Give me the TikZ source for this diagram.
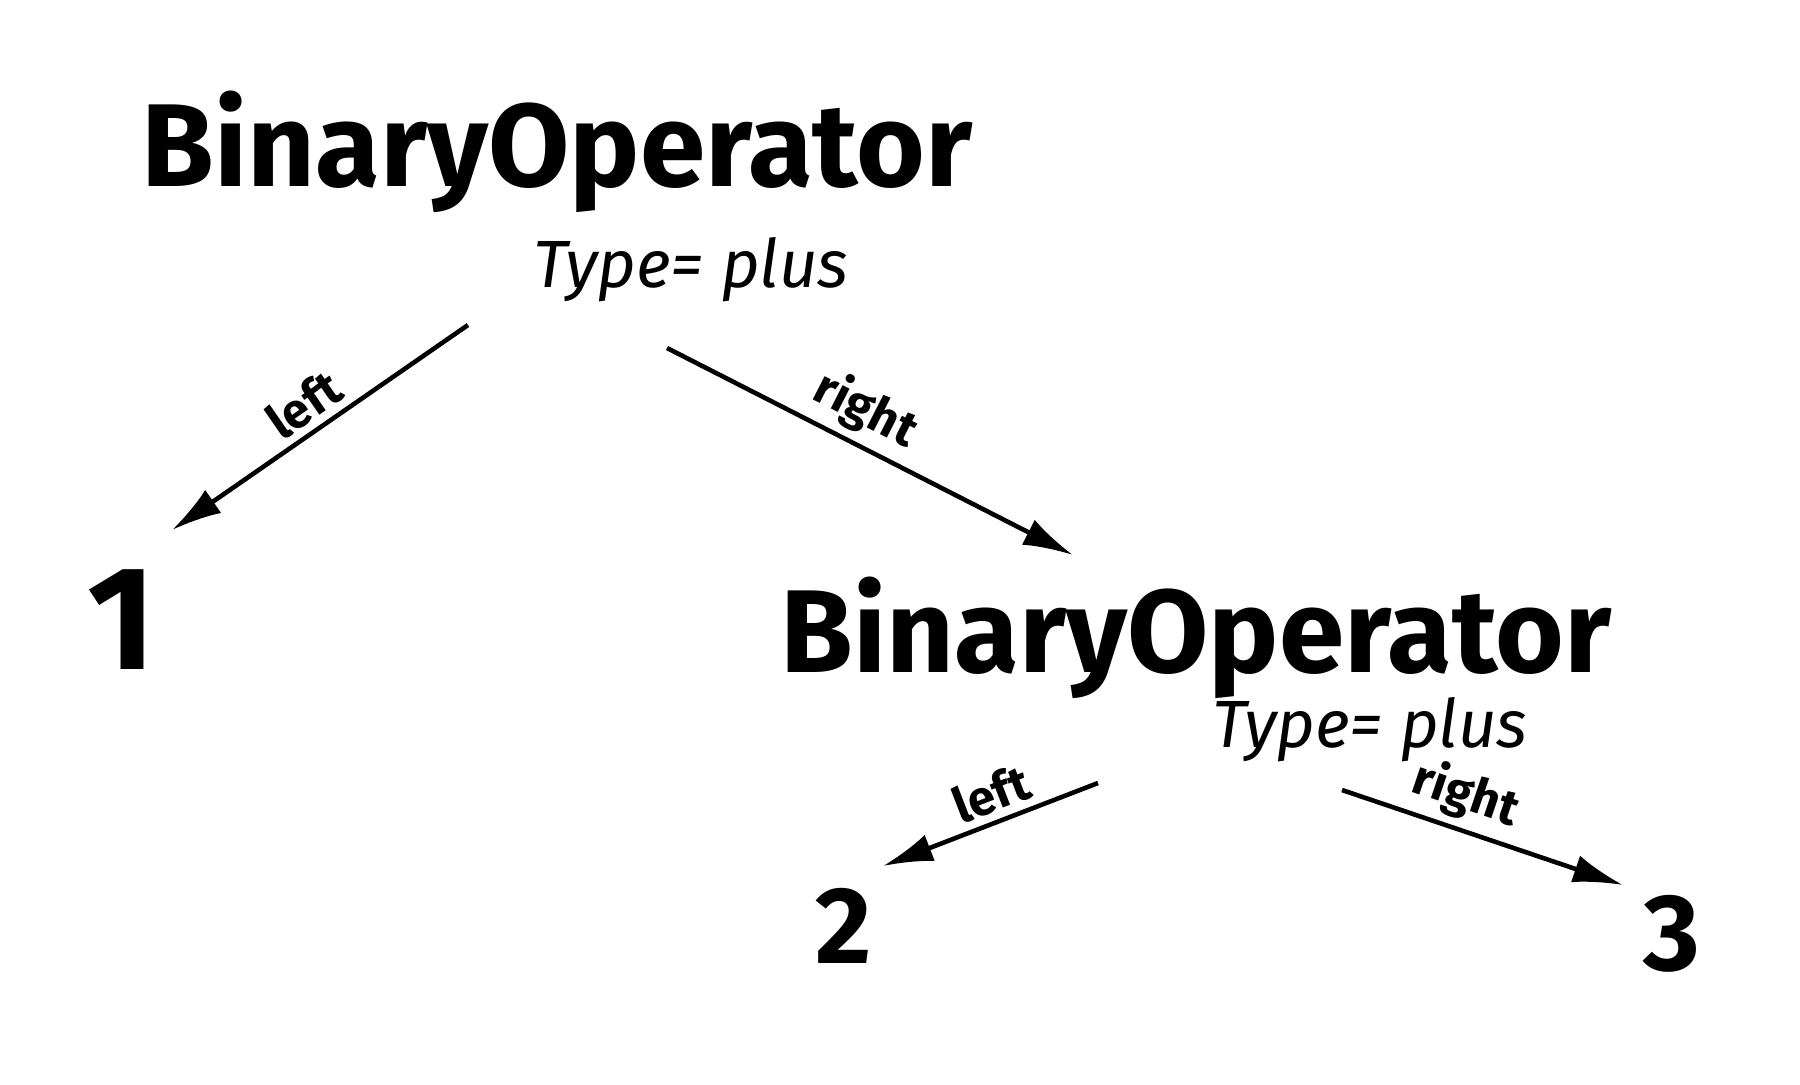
\documentclass[tikz,border=0pt]{standalone}
\usepackage{fontspec}
\setmainfont{Fira Sans}
\usepackage{tikz}
\usetikzlibrary{arrows.meta,positioning,calc}

\begin{document}
\begin{tikzpicture}[
  x=0.01cm, y=-0.01cm,
  title/.style={font=\fontsize{33.5}{38}\selectfont\bfseries, inner sep=0pt},
  typ/.style={font=\fontsize{19}{22}\selectfont\itshape, inner sep=0pt},
  leaf/.style={font=\fontsize{31}{34}\selectfont\bfseries, inner sep=0pt},
  lab/.style={font=\fontsize{14}{16}\selectfont\bfseries, inner sep=2pt},
  arr/.style={-{Latex[length=5mm, width=2.8mm]}, line width=1.3pt}
]
\useasboundingbox (0,0) rectangle (1800,1084);

% ===== TOP OPERATOR =====
\node[title] (op_top) at (557,152) {BinaryOperator};
\node[typ] (op_top_type) at (691,270) {Type= plus};
\node[leaf, font=\fontsize{42}{46}\selectfont\bfseries] (one) at (122,620) {1};

\coordinate (top_l) at (468,325);
\coordinate (top_r) at (667,348);
\coordinate (one_in) at (172,530);
\coordinate (op_sub_in) at (1073,555);

\draw[arr] (top_l) -- node[lab, sloped, above] {left} (one_in);
\draw[arr] (top_r) -- node[lab, sloped, above, pos=0.45] {right} (op_sub_in);

% ===== SUB OPERATOR =====
\node[title] (op_sub) at (1196,638) {BinaryOperator};
\node[typ] (op_sub_type) at (1370,730) {Type= plus};
\node[leaf] (two) at (844,926) {2};
\node[leaf] (three) at (1672,934) {3};

\coordinate (sub_l) at (1098,783);
\coordinate (sub_r) at (1342,790);
\coordinate (two_in) at (883,866);
\coordinate (three_in) at (1623,885);

\draw[arr] (sub_l) -- node[lab, sloped, above, pos=0.45] {left} (two_in);
\draw[arr] (sub_r) -- node[lab, sloped, above, pos=0.4] {right} (three_in);

\end{tikzpicture}
\end{document}
